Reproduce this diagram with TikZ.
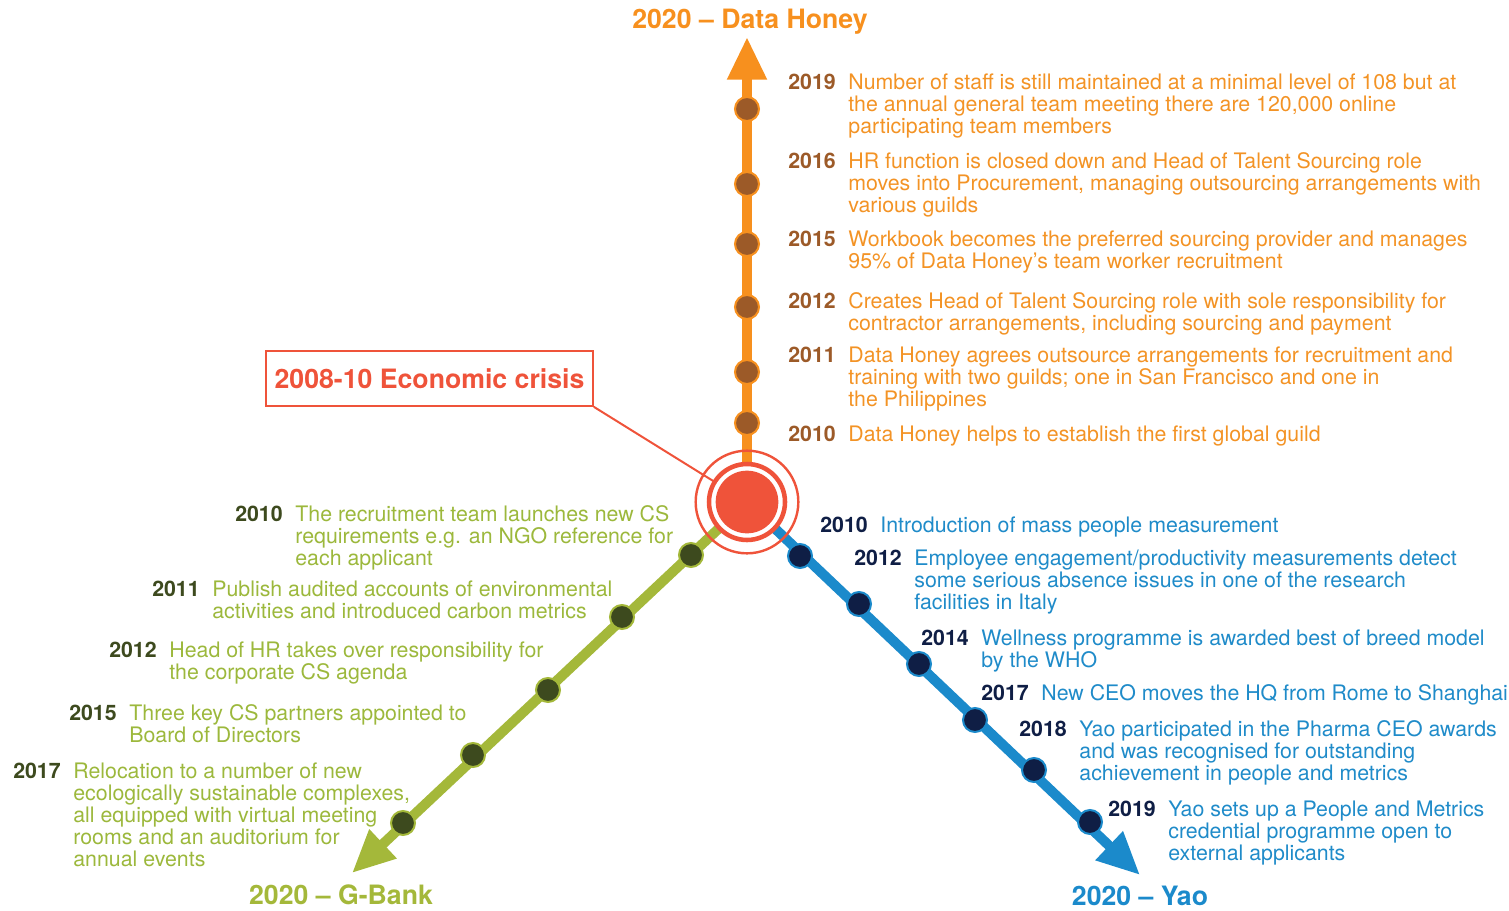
\documentclass[tikz,border=0pt]{standalone}
\usepackage{fontspec}
\setmainfont{TeX Gyre Heros}
\usetikzlibrary{arrows.meta,calc}
\definecolor{orLine}{HTML}{F7901E}
\definecolor{orText}{HTML}{F39325}
\definecolor{orDark}{HTML}{9C5A28}
\definecolor{grLine}{HTML}{A4B83A}
\definecolor{grText}{HTML}{9CB83C}
\definecolor{grDark}{HTML}{3D4A1E}
\definecolor{blLine}{HTML}{1B8ACB}
\definecolor{blText}{HTML}{1F8BC9}
\definecolor{blDark}{HTML}{0F1E45}
\definecolor{crisisRed}{HTML}{EF533A}
\newcommand{\bodyfont}{\fontsize{16}{16.5}\selectfont}
\newcommand{\titlefont}{\fontsize{20}{22}\selectfont\bfseries}
\newcommand{\tlentry}[3]{{\bfseries\color{#1}#2}\hspace{9.5pt}\begin{tabular}[t]{@{}l@{}}#3\end{tabular}}
\tikzset{
  evO/.style={anchor=base west, inner sep=0pt, text=orText, font=\bodyfont},
  evG/.style={anchor=base west, inner sep=0pt, text=grText, font=\bodyfont},
  evB/.style={anchor=base west, inner sep=0pt, text=blText, font=\bodyfont},
  axis/.style={line width=7.5pt, -{Triangle[length=32pt,width=28pt]}},
  dotO/.style={circle, fill=orDark, draw=orLine, line width=1.5pt, minimum size=18pt, inner sep=0pt},
  dotG/.style={circle, fill=grDark, draw=grLine, line width=1.5pt, minimum size=18pt, inner sep=0pt},
  dotB/.style={circle, fill=blDark, draw=blLine, line width=1.5pt, minimum size=18pt, inner sep=0pt},
  ttl/.style={anchor=base, inner sep=0pt, font=\titlefont},
}
\begin{document}
\begin{tikzpicture}[x=0.75pt,y=-0.75pt]
\useasboundingbox (0,0) rectangle (1509,910);
\coordinate (c) at (747,502);
\coordinate (tipO) at (747,37);
\coordinate (tipG) at (352,873);
\coordinate (tipB) at (1140,875);

% crisis box
\node[draw=crisisRed, line width=1.5pt, text=crisisRed, font=\titlefont,
      minimum width=245pt, minimum height=41pt, inner sep=0pt] (crisis) at (429.5,378.5) {2008-10 Economic crisis};
\draw[crisisRed, line width=1.5pt] (crisis.south east) -- (c);

% axes
\draw[axis, orLine] (c) -- (tipO);
\draw[axis, grLine] (c) -- (tipG);
\draw[axis, blLine] (c) -- (tipB);

% hub
\node[circle, fill=white, minimum size=54pt, inner sep=0pt] (hubgap) at (c) {};
\node[circle, draw=crisisRed, line width=3.4pt, minimum size=57pt, inner sep=0pt] (hubring) at (c) {};
\node[circle, fill=crisisRed, minimum size=47pt, inner sep=0pt] (hub) at (c) {};
\node[circle, draw=crisisRed, line width=1.8pt, minimum size=77pt, inner sep=0pt] (hubouter) at (c) {};

% dots
\node[dotO] (dO1) at (747,109) {};
\node[dotO] (dO2) at (747,184) {};
\node[dotO] (dO3) at (747,244) {};
\node[dotO] (dO4) at (747,307) {};
\node[dotO] (dO5) at (747,372) {};
\node[dotO] (dO6) at (747,423) {};

\node[dotG] (dG1) at (691,555) {};
\node[dotG] (dG2) at (622,617) {};
\node[dotG] (dG3) at (548,690) {};
\node[dotG] (dG4) at (473,755) {};
\node[dotG] (dG5) at (403,823) {};

\node[dotB] (dB1) at (800,556) {};
\node[dotB] (dB2) at (859,604) {};
\node[dotB] (dB3) at (919,664) {};
\node[dotB] (dB4) at (975,720) {};
\node[dotB] (dB5) at (1034,770) {};
\node[dotB] (dB6) at (1090,822) {};

% titles
\node[ttl, text=orLine] (tO) at (750,28) {2020 – Data Honey};
\node[ttl, text=grLine] (tG) at (341,904) {2020 – G-Bank};
\node[ttl, text=blLine] (tB) at (1140,905) {2020 – Yao};

% orange entries
\node[evO] (o2019) at (788,89) {\tlentry{orDark}{2019}{Number of staff is still maintained at a minimal level of 108 but at\\the annual general team meeting there are 120,000 online\\participating team members}};
\node[evO] (o2016) at (788,168) {\tlentry{orDark}{2016}{HR function is closed down and Head of Talent Sourcing role\\moves into Procurement, managing outsourcing arrangements with\\various guilds}};
\node[evO] (o2015) at (788,246) {\tlentry{orDark}{2015}{Workbook becomes the preferred sourcing provider and manages\\95\% of Data Honey’s team worker recruitment}};
\node[evO] (o2012) at (788,308) {\tlentry{orDark}{2012}{Creates Head of Talent Sourcing role with sole responsibility for\\contractor arrangements, including sourcing and payment}};
\node[evO] (o2011) at (788,362) {\tlentry{orDark}{2011}{Data Honey agrees outsource arrangements for recruitment and\\training with two guilds; one in San Francisco and one in\\the Philippines}};
\node[evO] (o2010) at (788,441) {\tlentry{orDark}{2010}{Data Honey helps to establish the first global guild}};

% green entries
\node[evG] (g2010) at (235,521) {\tlentry{grDark}{2010}{The recruitment team launches new CS\\requirements e.g. an NGO reference for\\each applicant}};
\node[evG] (g2011) at (152,596) {\tlentry{grDark}{2011}{Publish audited accounts of environmental\\activities and introduced carbon metrics}};
\node[evG] (g2012) at (109,657) {\tlentry{grDark}{2012}{Head of HR takes over responsibility for\\the corporate CS agenda}};
\node[evG] (g2015) at (69,720) {\tlentry{grDark}{2015}{Three key CS partners appointed to\\Board of Directors}};
\node[evG] (g2017) at (13,778) {\tlentry{grDark}{2017}{Relocation to a number of new\\ecologically sustainable complexes,\\all equipped with virtual meeting\\rooms and an auditorium for\\annual events}};

% blue entries
\node[evB] (b2010) at (820,532) {\tlentry{blDark}{2010}{Introduction of mass people measurement}};
\node[evB] (b2012) at (854,565) {\tlentry{blDark}{2012}{Employee engagement/productivity measurements detect\\some serious absence issues in one of the research\\facilities in Italy}};
\node[evB] (b2014) at (921,645) {\tlentry{blDark}{2014}{Wellness programme is awarded best of breed model\\by the WHO}};
\node[evB] (b2017) at (981,700) {\tlentry{blDark}{2017}{New CEO moves the HQ from Rome to Shanghai}};
\node[evB] (b2018) at (1019,736) {\tlentry{blDark}{2018}{Yao participated in the Pharma CEO awards\\and was recognised for outstanding\\achievement in people and metrics}};
\node[evB] (b2019) at (1108,816) {\tlentry{blDark}{2019}{Yao sets up a People and Metrics\\credential programme open to\\external applicants}};
\end{tikzpicture}
\end{document}
